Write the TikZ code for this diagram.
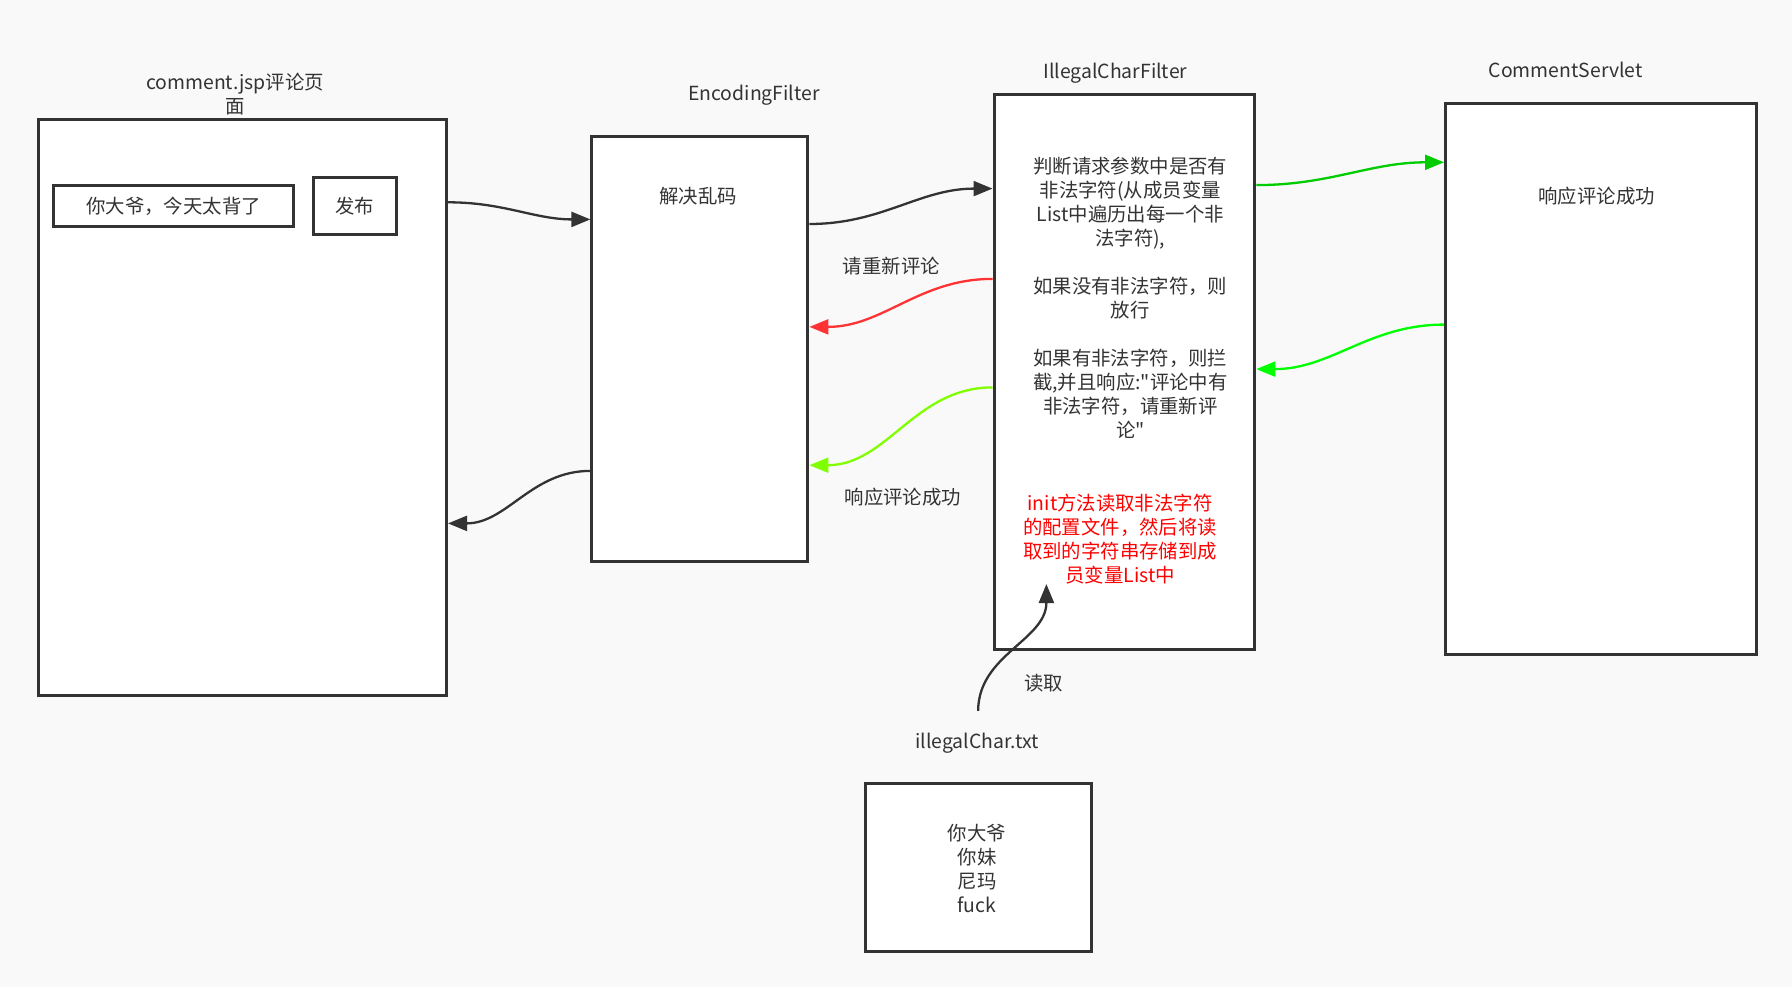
\documentclass[tikz,border=0pt]{standalone}
\usepackage{fontspec}
\setmainfont{Noto Sans CJK SC}[Ligatures=TeXOff]
\usetikzlibrary{arrows.meta}
\definecolor{ink}{HTML}{333333}
\definecolor{bgc}{HTML}{F9F9F9}
\definecolor{gdark}{HTML}{00CC00}
\definecolor{gbright}{HTML}{00FF00}
\definecolor{rline}{HTML}{FF3333}
\definecolor{lime}{HTML}{80FF00}
\begin{document}
\begin{tikzpicture}[x=1pt,y=-1pt,
  font=\fontsize{19.4}{24}\selectfont,
  box/.style={draw=ink, line width=3pt, fill=white, anchor=north west, inner sep=0pt, text=ink},
  lbl/.style={text=ink, align=center, inner sep=0pt},
  conn/.style={line width=2.3pt, -{Triangle[length=19pt,width=15pt]}}]
\fill[bgc] (0,0) rectangle (1792,987);
\useasboundingbox (0,0) rectangle (1792,987);
% boxes
\node[box, minimum width=408pt, minimum height=576pt] (b1) at (37,117.7) {};
\node[box, minimum width=216pt, minimum height=425pt] (b2) at (590.4,134.9) {};
\node[box, minimum width=260.8pt, minimum height=555.4pt] (b3) at (992.5,92.6) {};
\node[box, minimum width=310.8pt, minimum height=550.9pt] (b4) at (1444,101.7) {};
\node[box, minimum width=226.3pt, minimum height=168pt] (b5) at (863.5,781.7) {};
\node[box, minimum width=240pt, minimum height=41pt] (inp) at (52,184) {你大爷，今天太背了};
\node[box, minimum width=83.4pt, minimum height=57pt] (btn) at (311.5,176) {发布};
% labels
\node[lbl] (t1) at (235,94) {comment.jsp评论页\\面};
\node[lbl] (t2) at (754,94.9) {EncodingFilter};
\node[lbl] (t2b) at (698,196.6) {解决乱码};
\node[lbl] (t3) at (1115.4,73) {IllegalCharFilter};
\node[lbl] (t3b) at (1130.3,297.7) {判断请求参数中是否有\\非法字符(从成员变量\\List中遍历出每一个非\\法字符),\\[24pt]如果没有非法字符，则\\放行\\[24pt]如果有非法字符，则拦\\截,并且响应:"评论中有\\非法字符，请重新评\\论"};
\node[lbl, text=red] (t3c) at (1120,538.9) {init方法读取非法字符\\的配置文件，然后将读\\取到的字符串存储到成\\员变量List中};
\node[lbl] (t4) at (1565.7,69.7) {CommentServlet};
\node[lbl] (t4b) at (1596.6,196.6) {响应评论成功};
\node[lbl] (t5) at (977,742.9) {illegalChar.txt};
\node[lbl] (t5b) at (977,868) {你大爷\\你妹\\尼玛\\fuck};
\node[lbl] (l1) at (891.4,266.3) {请重新评论};
\node[lbl] (l2) at (902.9,497.1) {响应评论成功};
\node[lbl] (l3) at (1043.5,683.4) {读取};
% connectors
\draw[conn, ink] ([yshift=-84.6pt]b1.north east) to[out=0,in=180] ([yshift=-84.5pt]b2.north west);
\draw[conn, ink] ([yshift=-89.1pt]b2.north east) to[out=0,in=180] ([yshift=-96pt]b3.north west);
\draw[conn, gdark] ([yshift=-92.5pt]b3.north east) to[out=0,in=180] ([yshift=-60.6pt]b4.north west);
\draw[conn, gbright] ([yshift=-222.9pt]b4.north west) to[out=180,in=0] ([yshift=-276.5pt]b3.north east);
\draw[conn, rline] ([yshift=-186.3pt]b3.north west) to[out=180,in=0] ([yshift=-192pt]b2.north east);
\draw[conn, lime] ([yshift=-294.8pt]b3.north west) to[out=180,in=0] ([yshift=-330.3pt]b2.north east);
\draw[conn, ink] ([yshift=-336pt]b2.north west) to[out=180,in=0] ([yshift=-405.7pt]b1.north east);
\draw[conn, ink] ([yshift=70.8pt]b5.north) to[out=90,in=-90] ([xshift=53.9pt,yshift=-491.4pt]b3.north west);
\end{tikzpicture}
\end{document}
